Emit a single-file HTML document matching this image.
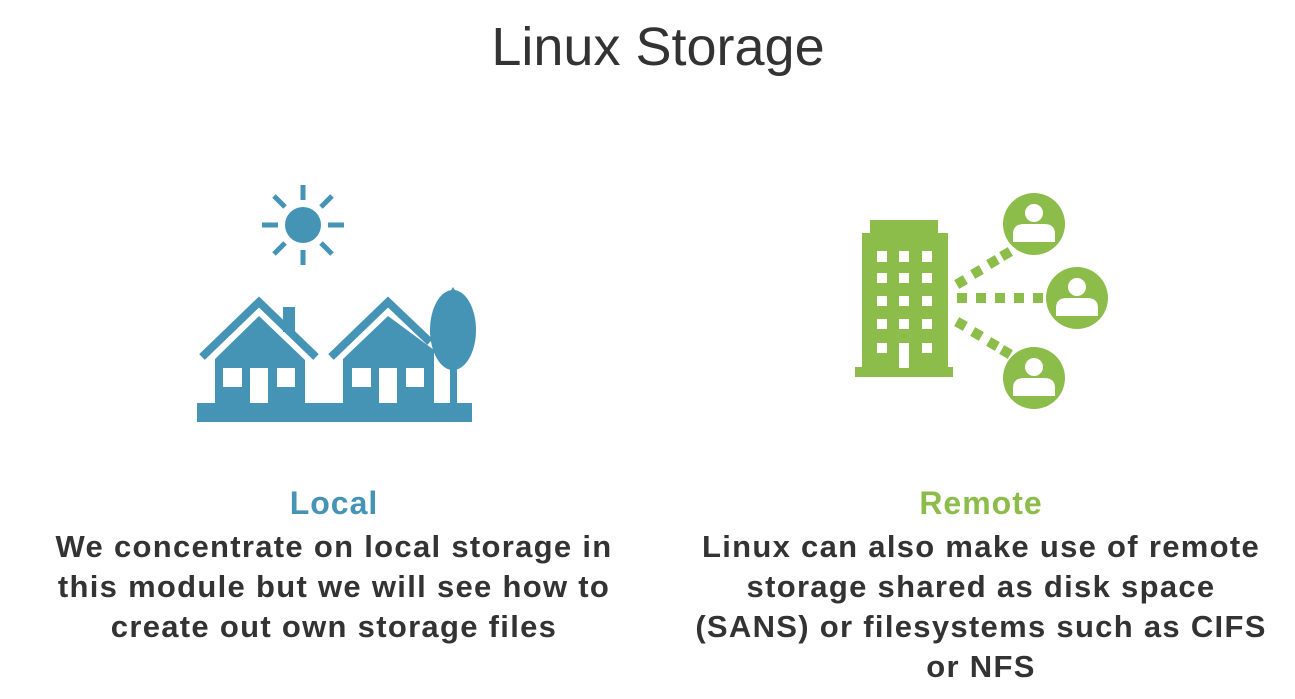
<!DOCTYPE html>
<html><head><meta charset="utf-8"><style>
body{margin:0;width:1295px;height:699px;background:#fff;overflow:hidden;position:relative;font-family:"Liberation Sans",sans-serif}
.t{position:absolute;text-align:center;white-space:nowrap}
.title{left:0;width:1316px;top:16px;font-size:54px;color:#333;font-weight:normal}
.h{font-size:32px;font-weight:bold;top:485px;letter-spacing:1px}
.b{font-size:31px;font-weight:bold;color:#333;line-height:40px;top:527px;letter-spacing:1.3px}
</style></head><body>
<div class="t title">Linux Storage</div>
<svg width="1295" height="699" style="position:absolute;left:0;top:0">
<g fill="#4593b5" stroke="none">
<circle cx="303" cy="225" r="18"/>
<g stroke="#4593b5" stroke-width="5">
<line x1="303" y1="185" x2="303" y2="200"/><line x1="303" y1="250" x2="303" y2="265"/>
<line x1="262" y1="225" x2="278" y2="225"/><line x1="328" y1="225" x2="344" y2="225"/>
<line x1="274" y1="196" x2="285" y2="207"/><line x1="321" y1="243" x2="332" y2="254"/>
<line x1="332" y1="196" x2="321" y2="207"/><line x1="285" y1="243" x2="274" y2="254"/>
</g>
<rect x="197" y="403" width="275" height="19"/>
<polyline points="202,357 259,302 316,357" fill="none" stroke="#4593b5" stroke-width="8"/>
<rect x="283" y="307" width="12" height="25"/>
<polygon points="259,316 215,359 215,403 305,403 305,360"/>
<polyline points="331,357 388,302 430,342" fill="none" stroke="#4593b5" stroke-width="8"/>
<polygon points="388,316 343,359 343,403 434,403 434,350"/>
<ellipse cx="453" cy="330" rx="23" ry="40"/>
<path d="M453 287 L433 320 L473 320 Z"/>
<rect x="450" y="360" width="7" height="43"/>
<g fill="#fff">
<rect x="223" y="368" width="19" height="19"/><rect x="250" y="368" width="18" height="35"/><rect x="277" y="368" width="18" height="19"/>
<rect x="352" y="368" width="19" height="19"/><rect x="379" y="368" width="18" height="35"/><rect x="406" y="368" width="18" height="19"/>
</g>
</g>
<g fill="#8cbd4a">
<rect x="870" y="220" width="68" height="14"/>
<rect x="862" y="233" width="86" height="136"/>
<rect x="855" y="367" width="98" height="10"/>
<g fill="#fff">
<rect x="877" y="251" width="10" height="11"/><rect x="899" y="251" width="10" height="11"/><rect x="922" y="251" width="10" height="11"/>
<rect x="877" y="273" width="10" height="10"/><rect x="899" y="273" width="10" height="10"/><rect x="922" y="273" width="10" height="10"/>
<rect x="877" y="296" width="10" height="10"/><rect x="899" y="296" width="10" height="10"/><rect x="922" y="296" width="10" height="10"/>
<rect x="877" y="319" width="10" height="10"/><rect x="899" y="319" width="10" height="10"/><rect x="922" y="319" width="10" height="10"/>
<rect x="877" y="343" width="10" height="10"/><rect x="899" y="343" width="10" height="25"/><rect x="922" y="343" width="10" height="10"/>
</g>
<g>
<rect x="957" y="293" width="10" height="10"/><rect x="976" y="293" width="10" height="10"/><rect x="995" y="293" width="10" height="10"/><rect x="1014" y="293" width="10" height="10"/><rect x="1033" y="293" width="10" height="10"/>
<rect x="956" y="277" width="10" height="10" transform="rotate(-30 961 282)"/><rect x="972" y="267" width="10" height="10" transform="rotate(-30 977 272)"/><rect x="988" y="257" width="10" height="10" transform="rotate(-30 993 262)"/><rect x="1001" y="249" width="10" height="10" transform="rotate(-30 1006 254)"/>
<rect x="956" y="319" width="10" height="10" transform="rotate(30 961 324)"/><rect x="972" y="329" width="10" height="10" transform="rotate(30 977 334)"/><rect x="988" y="339" width="10" height="10" transform="rotate(30 993 344)"/><rect x="1001" y="347" width="10" height="10" transform="rotate(30 1006 352)"/>
</g>
<circle cx="1034" cy="224" r="31"/><circle cx="1077" cy="298" r="31"/><circle cx="1034" cy="378" r="31"/>
<g fill="#fff">
<circle cx="1034" cy="213" r="9"/><path d="M1013 242 V234 Q1013 224 1024 224 H1044 Q1055 224 1055 234 V242 Z"/>
<circle cx="1077" cy="287" r="9"/><path d="M1056 316 V308 Q1056 298 1067 298 H1087 Q1098 298 1098 308 V316 Z"/>
<circle cx="1034" cy="367" r="9"/><path d="M1013 396 V388 Q1013 378 1024 378 H1044 Q1055 378 1055 388 V396 Z"/>
</g>
</g>
</svg>
<div class="t h" style="left:234px;width:200px;color:#4593b5">Local</div>
<div class="t b" style="left:34px;width:600px">We concentrate on local storage in<br>this module but we will see how to<br>create out own storage files</div>
<div class="t h" style="left:881px;width:200px;color:#8cbd4a">Remote</div>
<div class="t b" style="left:681px;width:600px">Linux can also make use of remote<br>storage shared as disk space<br>(SANS) or filesystems such as CIFS<br>or NFS</div>
</body></html>
